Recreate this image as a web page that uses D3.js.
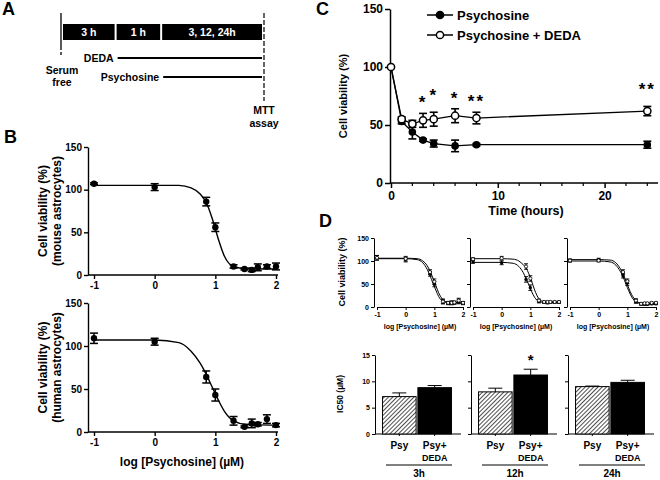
<!DOCTYPE html>
<html>
<head>
<meta charset="utf-8">
<script src="https://d3js.org/d3.v7.min.js"></script>
<style>
  body { margin: 0; background: #fff; }
  svg text { font-family: "Liberation Sans", Arial, sans-serif; font-weight: bold; fill: #000; }
  .ax path, .ax line { stroke: #000; }
</style>
</head>
<body>
<script>
// ---------- data ----------
// A: protocol timeline
const phaseLabels = ["3 h", "1 h", "3, 12, 24h"];
const phaseLength = [1, 0.85, 1.9];
const treatments = ["DEDA", "Psychosine"];
const treatmentStart = [1, 2];   // phase index where treatment begins

// B: dose response (log µM)
const logConc = [-1, 0, 0.85, 1, 1.3, 1.48, 1.6, 1.7, 1.85, 2];
const mouseMean = [107, 103, 86, 56, 10, 7, 6, 9, 10, 10];
const mouseErr = [1, 4, 5, 5, 2, 1, 2, 4, 2, 4];
const humanMean = [109, 105, 64, 43, 13, 6, 10, 9, 15, 8];
const humanErr = [6, 4, 7, 7, 5, 1, 5, 2, 5, 2];
// fitted curves
const fitX = [-1, 0, 0.4, 0.6, 0.75, 0.85, 0.95, 1.05, 1.15, 1.3, 1.5, 2];
const mouseFit = [105, 105, 105, 102, 95, 85, 66, 42, 22, 10, 7.5, 7];
const humanFit = [107, 107, 104, 94, 80, 67, 52, 37, 24, 13, 9, 8];

// C: time course
const hours = [0, 1, 2, 3, 4, 6, 8, 24];
const psyMean = [100, 53, 44, 37, 34, 32, 33, 33];
const psyErr = [0, 2, 6, 1, 3, 5, 1, 3];
const dedaMean = [100, 55, 51, 54, 55, 58, 56, 62];
const dedaErr = [0, 2, 3, 6, 6, 6, 5, 4];
const starHours = [3, 4, 6, 8, 24];
const starMarks = ["*", "*", "*", "**", "**"];

// D: dose response per incubation time
const dGroups = ["3h", "12h", "24h"];
const dPsyMean = [
  [107, 103, 72, 50, 12, 8, 9, 9, 12, 8],
  [98, 96, 60, 42, 12, 10, 9, 10, 10, 10],
  [101, 103, 68, 52, 12, 6, 6, 6, 7, 7]
];
const dDedaMean = [
  [107, 105, 76, 55, 12, 9, 9, 10, 14, 9],
  [104, 106, 88, 62, 14, 11, 11, 11, 11, 11],
  [101, 101, 76, 56, 14, 7, 8, 8, 9, 9]
];
const dErr = [
  [5, 5, 5, 6, 5, 3, 4, 3, 5, 3],
  [3, 4, 6, 6, 3, 2, 2, 2, 2, 2],
  [3, 3, 5, 5, 4, 2, 2, 2, 2, 2]
];
const dPsyFit = [
  [105, 105, 103, 96, 82, 68, 52, 37, 23, 12, 9, 9],
  [97, 97, 95, 88, 75, 62, 48, 33, 21, 12, 10, 10],
  [100, 100, 98, 91, 78, 66, 50, 35, 22, 11, 7, 6]
];
const dDedaFit = [
  [106, 106, 105, 100, 90, 78, 63, 47, 31, 16, 10, 9],
  [105, 105, 104, 100, 92, 85, 72, 55, 37, 18, 11, 10],
  [103, 103, 102, 96, 84, 72, 57, 41, 27, 14, 8, 7]
];
// IC50 bars
const barCats = ["Psy", "Psy+DEDA"];
const ic50Psy = [7.1, 8.0, 9.0];
const ic50PsyErr = [0.7, 0.7, 0.1];
const ic50Deda = [8.8, 11.2, 9.8];
const ic50DedaErr = [0.4, 1.1, 0.4];
const barStars = ["", "*", ""];

// ---------- drawing ----------
const svg = d3.select("body").append("svg").attr("width", 660).attr("height", 480);
const intFmt = v => String(v);

const defs = svg.append("defs");
const pat = defs.append("pattern").attr("id", "hatch").attr("patternUnits", "userSpaceOnUse")
  .attr("width", 3).attr("height", 3).attr("patternTransform", "rotate(45)");
pat.append("rect").attr("width", 3).attr("height", 3).attr("fill", "#fff");
pat.append("line").attr("x1", 0).attr("y1", 0).attr("x2", 0).attr("y2", 3)
  .attr("stroke", "#222").attr("stroke-width", 1.6);

function letter(t, x, y) {
  svg.append("text").attr("x", x).attr("y", y).attr("font-size", 18).text(t);
}
letter("A", 2, 15);
letter("B", 4, 143);
letter("C", 316, 15);
letter("D", 319, 227);

// ---- A ----
{
  const ends = d3.cumsum(phaseLength);
  const starts = [0, ...ends.slice(0, -1)];
  const x = d3.scaleLinear().domain([0, d3.sum(phaseLength)]).range([62, 263]);
  const g = svg.append("g");
  g.append("line").attr("x1", x(0) - 1).attr("x2", x(0) - 1).attr("y1", 13).attr("y2", 50)
    .attr("stroke", "#000").attr("stroke-width", 1.3);
  g.append("line").attr("x1", x(0) - 1).attr("x2", x(0) - 1).attr("y1", 52).attr("y2", 55)
    .attr("stroke", "#000").attr("stroke-width", 1.3);
  g.append("line").attr("x1", x.range()[1] + 1).attr("x2", x.range()[1] + 1).attr("y1", 13).attr("y2", 101)
    .attr("stroke", "#000").attr("stroke-width", 1.2).attr("stroke-dasharray", "5,2");
  g.selectAll(".ph").data(phaseLabels).join("rect")
    .attr("x", (d, i) => x(starts[i]) + 1).attr("width", (d, i) => x(ends[i]) - x(starts[i]) - 2)
    .attr("y", 24).attr("height", 16).attr("fill", "#000");
  g.selectAll(".pht").data(phaseLabels).join("text")
    .attr("x", (d, i) => (x(starts[i]) + x(ends[i])) / 2).attr("y", 36)
    .attr("text-anchor", "middle").attr("font-size", 10.5).style("fill", "#fff").text(d => d);
  const ty = d3.scalePoint().domain(treatments).range([58, 77]);
  treatments.forEach((t, i) => {
    const x0 = x(starts[treatmentStart[i]]) + 2;
    g.append("line").attr("x1", x0).attr("x2", x.range()[1] - 1)
      .attr("y1", ty(t)).attr("y2", ty(t)).attr("stroke", "#000").attr("stroke-width", 2);
    g.append("text").attr("x", x0 - 4).attr("y", ty(t) + 4).attr("text-anchor", "end")
      .attr("font-size", 10.5).text(t);
  });
  g.append("text").attr("x", 62).attr("y", 74).attr("text-anchor", "middle").attr("font-size", 10.5).text("Serum");
  g.append("text").attr("x", 62).attr("y", 86).attr("text-anchor", "middle").attr("font-size", 10.5).text("free");
  g.append("text").attr("x", 264).attr("y", 114).attr("text-anchor", "middle").attr("font-size", 10.5).text("MTT");
  g.append("text").attr("x", 264).attr("y", 127).attr("text-anchor", "middle").attr("font-size", 10.5).text("assay");
}

// helpers
function errBars(g, xs, ys, es, x, y, cap, sw) {
  const d = xs.map((v, i) => ({ x: v, m: ys[i], e: es[i] })).filter(d => d.e > 0);
  const eg = g.append("g").attr("stroke", "#000").attr("stroke-width", sw);
  eg.selectAll(".v").data(d).join("line")
    .attr("x1", d => x(d.x)).attr("x2", d => x(d.x))
    .attr("y1", d => y(d.m - d.e)).attr("y2", d => y(d.m + d.e));
  [-1, 1].forEach(s => {
    eg.selectAll(".c" + s).data(d).join("line")
      .attr("x1", d => x(d.x) - cap / 2).attr("x2", d => x(d.x) + cap / 2)
      .attr("y1", d => y(d.m + s * d.e)).attr("y2", d => y(d.m + s * d.e));
  });
}
function styleAxis(g, fs, sw) {
  g.attr("class", "ax");
  g.selectAll("path, line").attr("stroke-width", sw);
  g.selectAll("text").attr("font-size", fs).attr("font-family", "Liberation Sans, Arial, sans-serif");
}

// ---- B ----
function doseB(yTop, yBot, mean, err, fit, line2, xLabel) {
  const x = d3.scaleLinear().domain([-1, 2]).range([94, 276]);
  const y = d3.scaleLinear().domain([0, 150]).range([yBot, yTop]);
  const g = svg.append("g");
  const ya = g.append("g").attr("transform", "translate(88,0)")
    .call(d3.axisLeft(y).tickValues([0, 50, 100, 150]).tickSize(4).tickSizeOuter(0).tickPadding(2));
  styleAxis(ya, 10, 1.4);
  const xa = g.append("g").attr("transform", `translate(0,${yBot})`)
    .call(d3.axisBottom(x).tickValues([-1, 0, 1, 2]).tickFormat(intFmt).tickSize(4).tickSizeOuter(0).tickPadding(3));
  xa.select(".domain").attr("d", `M88,0H278`);
  styleAxis(xa, 10, 1.4);
  g.append("path").datum(fitX.map((v, i) => [v, fit[i]]))
    .attr("d", d3.line().x(d => x(d[0])).y(d => y(d[1])).curve(d3.curveMonotoneX))
    .attr("fill", "none").attr("stroke", "#000").attr("stroke-width", 1.4);
  errBars(g, logConc, mean, err, x, y, 8, 1.5);
  g.selectAll(".pt").data(logConc).join("circle")
    .attr("cx", d => x(d)).attr("cy", (d, i) => y(mean[i])).attr("r", 3.2).attr("fill", "#000");
  const cy = (yTop + yBot) / 2;
  g.append("text").attr("transform", `translate(47,${cy}) rotate(-90)`).attr("text-anchor", "middle")
    .attr("font-size", 12).text("Cell viability (%)");
  g.append("text").attr("transform", `translate(61,${cy}) rotate(-90)`).attr("text-anchor", "middle")
    .attr("font-size", 12).text(line2);
  if (xLabel) {
    g.append("text").attr("x", 182).attr("y", 466).attr("text-anchor", "middle")
      .attr("font-size", 12).text("log [Psychosine] (µM)");
  }
}
doseB(147, 275, mouseMean, mouseErr, mouseFit, "(mouse astrocytes)", false);
doseB(303, 432, humanMean, humanErr, humanFit, "(human astrocytes)", true);

// ---- C ----
{
  const x = d3.scaleLinear().domain([0, 25]).range([391, 658]);
  const y = d3.scaleLinear().domain([0, 150]).range([183, 9]);
  const g = svg.append("g");
  const ya = g.append("g").attr("transform", "translate(390,0)")
    .call(d3.axisLeft(y).tickValues([0, 50, 100, 150]).tickSize(5).tickSizeOuter(0).tickPadding(2));
  styleAxis(ya, 12, 1.5);
  const xa = g.append("g").attr("transform", "translate(0,183)")
    .call(d3.axisBottom(x).tickValues([0, 10, 20]).tickSize(5).tickSizeOuter(0).tickPadding(3));
  xa.select(".domain").attr("d", "M390,0H658");
  styleAxis(xa, 12, 1.5);
  g.append("g").selectAll("line").data(d3.range(2, 25, 2).filter(v => v % 10))
    .join("line").attr("x1", d => x(d)).attr("x2", d => x(d)).attr("y1", 183).attr("y2", 186)
    .attr("stroke", "#000").attr("stroke-width", 1.2);
  g.append("text").attr("transform", "translate(347,96) rotate(-90)").attr("text-anchor", "middle")
    .attr("font-size", 11).text("Cell viability (%)");
  g.append("text").attr("x", 526).attr("y", 215).attr("text-anchor", "middle")
    .attr("font-size", 12.5).text("Time (hours)");
  const line = d3.line().x((d, i) => x(hours[i])).y(d => y(d));
  g.append("path").datum(psyMean).attr("d", line).attr("fill", "none").attr("stroke", "#000").attr("stroke-width", 1.3);
  g.append("path").datum(dedaMean).attr("d", line).attr("fill", "none").attr("stroke", "#000").attr("stroke-width", 1.3);
  errBars(g, hours, psyMean, psyErr, x, y, 8, 1.6);
  errBars(g, hours, dedaMean, dedaErr, x, y, 8, 1.6);
  g.selectAll(".p").data(hours).join("circle").attr("cx", d => x(d)).attr("cy", (d, i) => y(psyMean[i]))
    .attr("r", 3.8).attr("fill", "#000");
  g.selectAll(".o").data(hours).join("circle").attr("cx", d => x(d)).attr("cy", (d, i) => y(dedaMean[i]))
    .attr("r", 3.6).attr("fill", "#fff").attr("stroke", "#000").attr("stroke-width", 1.5);
  // significance stars
  starHours.forEach((h, i) => {
    const k = hours.indexOf(h);
    const near = i > 0 && h - starHours[i - 1] < 1.5;
    g.append("text").attr("x", x(h)).attr("y", y(dedaMean[k] + dedaErr[k]) - 5 - (near || h > 20 ? 6 : 0))
      .attr("text-anchor", "middle").attr("font-size", 17).attr("font-weight", "normal")
      .text(starMarks[i]).style("letter-spacing", "2px");
  });
  // legend
  const legend = ["Psychosine", "Psychosine + DEDA"];
  const ly = d3.scalePoint().domain(legend).range([15, 35]);
  legend.forEach((t, i) => {
    g.append("line").attr("x1", 427).attr("x2", 453).attr("y1", ly(t)).attr("y2", ly(t))
      .attr("stroke", "#000").attr("stroke-width", 1.5);
    g.append("circle").attr("cx", 440).attr("cy", ly(t)).attr("r", 3.6)
      .attr("fill", i ? "#fff" : "#000").attr("stroke", "#000").attr("stroke-width", 1.5);
    g.append("text").attr("x", 457).attr("y", ly(t) + 4.5).attr("font-size", 13).text(t);
  });
}

// ---- D ----
const dOrigin = [374, 470, 567];
dGroups.forEach((grp, gi) => {
  const ox = dOrigin[gi];
  // small dose-response
  const x = d3.scaleLinear().domain([-1, 2]).range([ox + 3, ox + 89]);
  const y = d3.scaleLinear().domain([0, 150]).range([307, 238]);
  const g = svg.append("g");
  const ya = g.append("g").attr("transform", `translate(${ox},0)`)
    .call(d3.axisLeft(y).tickValues([0, 50, 100, 150]).tickSize(3).tickSizeOuter(0).tickPadding(2)
      .tickFormat(gi ? "" : d3.format("d")));
  styleAxis(ya, 7, 1);
  const xa = g.append("g").attr("transform", "translate(0,307)")
    .call(d3.axisBottom(x).tickValues([-1, 0, 1, 2]).tickFormat(intFmt).tickSize(3).tickSizeOuter(0).tickPadding(2));
  styleAxis(xa, 7, 1);
  g.append("text").attr("x", ox + 46).attr("y", 329).attr("text-anchor", "middle")
    .attr("font-size", 7).text("log [Psychosine] (µM)");
  const fl = d3.line().x((d, i) => x(fitX[i])).y(d => y(d)).curve(d3.curveMonotoneX);
  [dPsyFit[gi], dDedaFit[gi]].forEach(f => {
    g.append("path").datum(f).attr("d", fl).attr("fill", "none").attr("stroke", "#000").attr("stroke-width", 1);
  });
  errBars(g, logConc, dPsyMean[gi], dErr[gi], x, y, 4, 0.9);
  errBars(g, logConc, dDedaMean[gi], dErr[gi], x, y, 4, 0.9);
  g.selectAll(".p").data(logConc).join("circle").attr("cx", d => x(d)).attr("cy", (d, i) => y(dPsyMean[gi][i]))
    .attr("r", 1.7).attr("fill", "#000");
  g.selectAll(".o").data(logConc).join("circle").attr("cx", d => x(d)).attr("cy", (d, i) => y(dDedaMean[gi][i]))
    .attr("r", 1.6).attr("fill", "#fff").attr("stroke", "#000").attr("stroke-width", 0.8);

  // IC50 bars
  const bx = d3.scaleBand().domain(barCats).range([ox + 5, ox + 81]).paddingInner(0.05).paddingOuter(0.1);
  const by = d3.scaleLinear().domain([0, 15]).range([434, 355]);
  const b = svg.append("g");
  const bya = b.append("g").attr("transform", `translate(${ox + 1},0)`)
    .call(d3.axisLeft(by).tickValues([0, 5, 10, 15]).tickSize(3).tickSizeOuter(0).tickPadding(2)
      .tickFormat(gi ? "" : d3.format("d")));
  styleAxis(bya, 7, 1);
  const bxa = b.append("g").attr("transform", "translate(0,434)")
    .call(d3.axisBottom(bx).tickSize(2).tickSizeOuter(0).tickFormat(""));
  bxa.select(".domain").attr("d", `M${ox + 1},0H${ox + 87}`);
  styleAxis(bxa, 7, 1);
  const vals = [ic50Psy[gi], ic50Deda[gi]];
  const errs = [ic50PsyErr[gi], ic50DedaErr[gi]];
  b.selectAll(".er").data(barCats).join("g").each(function (c, i) {
    const cx = bx(c) + bx.bandwidth() / 2;
    const s = d3.select(this).attr("stroke", "#000").attr("stroke-width", 1);
    s.append("line").attr("x1", cx).attr("x2", cx).attr("y1", by(vals[i])).attr("y2", by(vals[i] + errs[i]));
    s.append("line").attr("x1", cx - 7).attr("x2", cx + 7).attr("y1", by(vals[i] + errs[i])).attr("y2", by(vals[i] + errs[i]));
  });
  b.selectAll(".bar").data(barCats).join("rect")
    .attr("x", d => bx(d)).attr("width", bx.bandwidth())
    .attr("y", (d, i) => by(vals[i])).attr("height", (d, i) => by(0) - by(vals[i]))
    .attr("fill", (d, i) => i ? "#000" : "url(#hatch)").attr("stroke", "#000").attr("stroke-width", 1);
  if (barStars[gi]) {
    const c = barCats[1];
    b.append("text").attr("x", bx(c) + bx.bandwidth() / 2).attr("y", by(ic50Deda[gi] + ic50DedaErr[gi]) - 4)
      .attr("text-anchor", "middle").attr("font-size", 15).text(barStars[gi]);
  }
  barCats.forEach(c => {
    const parts = c === "Psy" ? ["Psy"] : ["Psy+", "DEDA"];
    parts.forEach((p, k) => {
      b.append("text").attr("x", bx(c) + bx.bandwidth() / 2).attr("y", 449 + k * 12)
        .attr("text-anchor", "middle").attr("font-size", k ? 9 : 10).text(p);
    });
  });
  b.append("line").attr("x1", ox + 12).attr("x2", ox + 78).attr("y1", 465).attr("y2", 465)
    .attr("stroke", "#000").attr("stroke-width", 1);
  b.append("text").attr("x", ox + 45).attr("y", 477).attr("text-anchor", "middle")
    .attr("font-size", 10).text(grp);
});
svg.append("text").attr("transform", "translate(345,272) rotate(-90)").attr("text-anchor", "middle")
  .attr("font-size", 9).text("Cell viability (%)");
svg.append("text").attr("transform", "translate(343,394) rotate(-90)").attr("text-anchor", "middle")
  .attr("font-size", 8.5).attr("font-weight", "normal").text("IC50 (µM)");
</script>
</body>
</html>
